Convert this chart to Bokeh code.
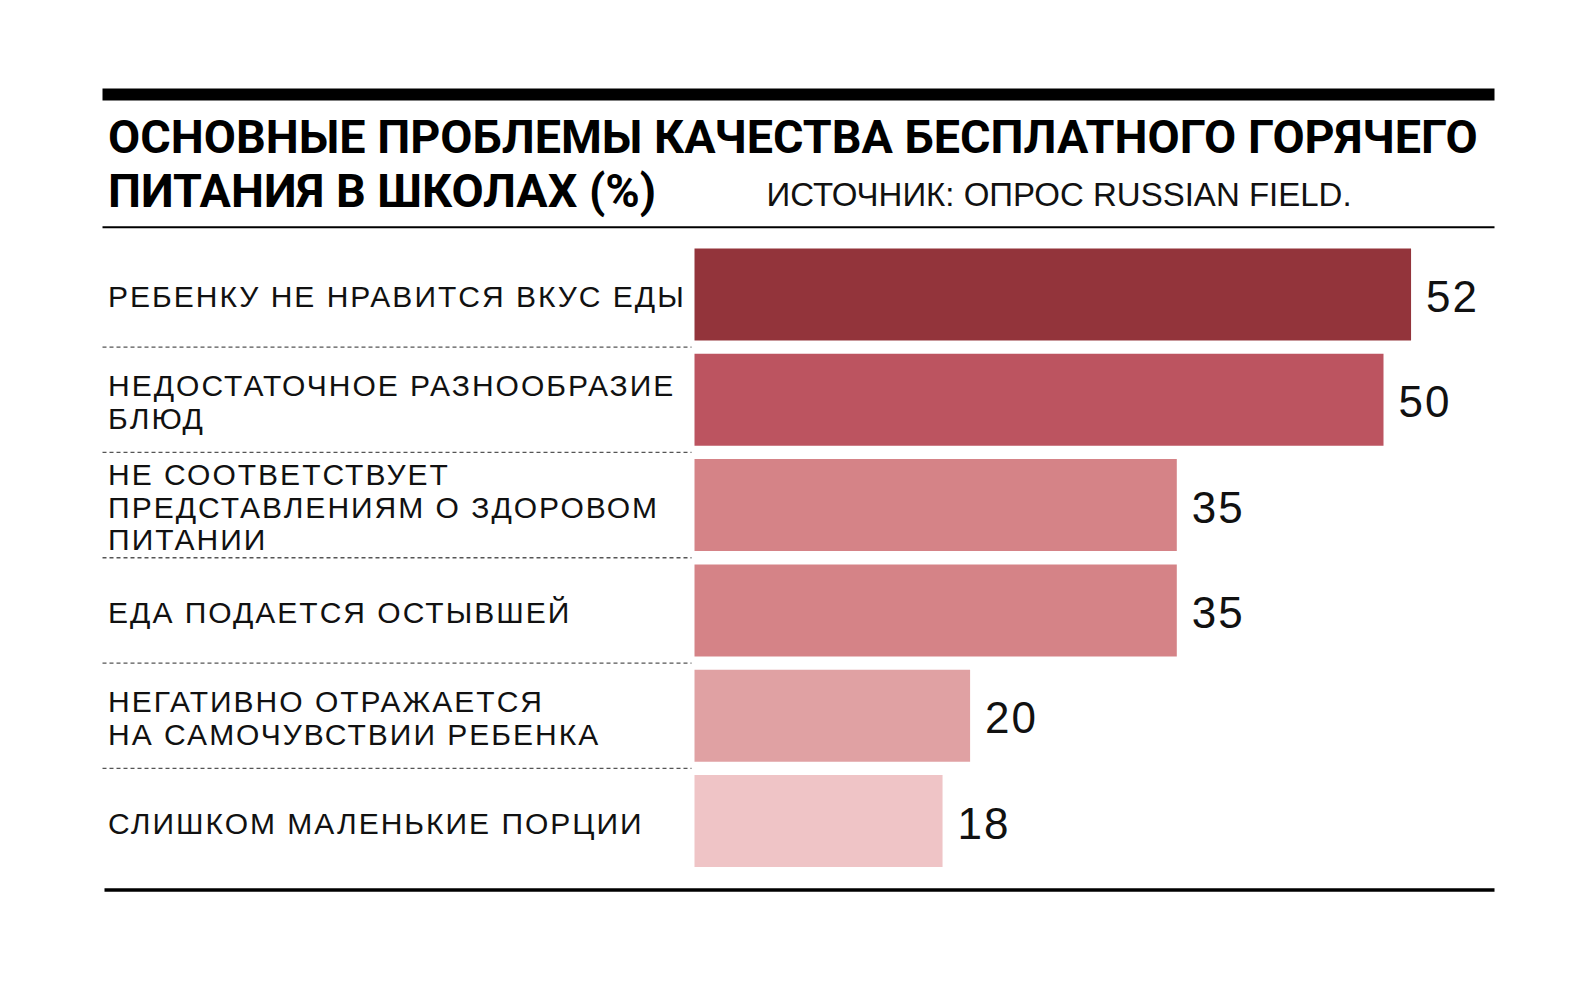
from bokeh.plotting import figure
from bokeh.layouts import column
from bokeh.models import Range1d, ColumnDataSource, InlineStyleSheet
from bokeh.core.properties import value
from bokeh.embed import file_html
from bokeh.resources import INLINE

# ---- data ----
categories = [
    "РЕБЕНКУ НЕ НРАВИТСЯ ВКУС ЕДЫ",
    "НЕДОСТАТОЧНОЕ РАЗНООБРАЗИЕ\nБЛЮД",
    "НЕ СООТВЕТСТВУЕТ\nПРЕДСТАВЛЕНИЯМ О ЗДОРОВОМ\nПИТАНИИ",
    "ЕДА ПОДАЕТСЯ ОСТЫВШЕЙ",
    "НЕГАТИВНО ОТРАЖАЕТСЯ\nНА САМОЧУВСТВИИ РЕБЕНКА",
    "СЛИШКОМ МАЛЕНЬКИЕ ПОРЦИИ",
]
values = [52, 50, 35, 35, 20, 18]
bar_colors = ["#93343B", "#BC5460", "#D58387", "#D58387", "#E0A1A3", "#EFC4C6"]
title_lines = ["ОСНОВНЫЕ ПРОБЛЕМЫ КАЧЕСТВА БЕСПЛАТНОГО ГОРЯЧЕГО",
               "ПИТАНИЯ В ШКОЛАХ (%)"]
source_text = "ИСТОЧНИК: ОПРОС RUSSIAN FIELD."

# ---- layout ----
W = 1573
H1 = 240                 # header figure height
H2 = 986 - H1            # chart figure height

# ================= header figure =================
head = figure(width=W, height=H1, output_backend="svg", toolbar_location=None,
              x_range=Range1d(0, W), y_range=Range1d(H1, 0),
              x_axis_location=None, y_axis_location=None, min_border=0,
              background_fill_color="white", border_fill_color="white")
head.outline_line_color = None
head.grid.visible = False

head.segment(x0=[102], x1=[1494], y0=[94], y1=[94], line_color="black", line_width=12)
head.segment(x0=[102], x1=[1494], y0=[226.7], y1=[226.7], line_color="black", line_width=2)

head.text(x=[107.6], y=[136.5], text=[title_lines[0]],
          text_font=value("Roboto"), text_font_style="bold", text_font_size="46.7px",
          text_baseline="alphabetic", text_color="black")
head.text(x=[107.6], y=[190.2], text=[title_lines[1]],
          text_font=value("Roboto"), text_font_style="bold", text_font_size="46.7px",
          text_baseline="alphabetic", text_color="black")
head.text(x=[766], y=[193.5], text=[source_text],
          text_font=value("Liberation Sans"), text_font_size="33px",
          text_baseline="alphabetic", text_color="#111111")

# ================= chart figure =================
oy = H1                  # page y of chart figure top
zero_px = 694.0          # page x of value 0
px_per_unit = 13.78
row0_px = 294.0 - oy     # first row centre within chart figure
row_pitch = 105.3

x_start = -zero_px / px_per_unit
x_end = (W - zero_px) / px_per_unit
y_top = -row0_px / row_pitch
y_bottom = (H2 - row0_px) / row_pitch


def px_x(px):
    return x_start + px / px_per_unit


def px_y(page_py):
    return y_top + (page_py - oy) / row_pitch


p = figure(width=W, height=H2, output_backend="svg", toolbar_location=None,
           x_range=Range1d(x_start, x_end), y_range=Range1d(y_bottom, y_top),
           x_axis_location=None, y_axis_location=None, min_border=0,
           background_fill_color="white", border_fill_color="white")
p.outline_line_color = None
p.grid.visible = False
p.stylesheets = [InlineStyleSheet(css=":host { letter-spacing: 2px; }")]

idx = list(range(len(categories)))
src = ColumnDataSource(dict(y=idx, v=values, c=bar_colors, cat=categories,
                            lab=[str(v) for v in values]))

p.hbar(y="y", left=0, right="v", height=92 / row_pitch, fill_color="c",
       line_color=None, source=src)

# value labels
p.text(x="v", y="y", text="lab", source=src, x_offset=15, y_offset=2,
       text_font=value("Liberation Sans"), text_font_size="44px",
       text_baseline="middle", text_align="left", text_color="#111111")

# category labels
p.text(x=px_x(107.6), y="y", text="cat", source=src, y_offset=2,
       text_font=value("Liberation Sans"), text_font_size="30px",
       text_baseline="middle", text_align="left", text_color="#111111",
       text_line_height=0.99)

# dashed separators between rows
sep_y = [i + 0.5 for i in idx[:-1]]
p.segment(x0=[px_x(102)] * len(sep_y), x1=[px_x(691)] * len(sep_y),
          y0=sep_y, y1=sep_y, line_color="#555555", line_width=1.3,
          line_dash="4 3")

# bottom rule
p.segment(x0=[px_x(104)], x1=[px_x(1494)], y0=[px_y(889.5)], y1=[px_y(889.5)],
          line_color="black", line_width=3.5)

layout = column(head, p, spacing=0)
open("out.html", "w").write(file_html(layout, INLINE))
